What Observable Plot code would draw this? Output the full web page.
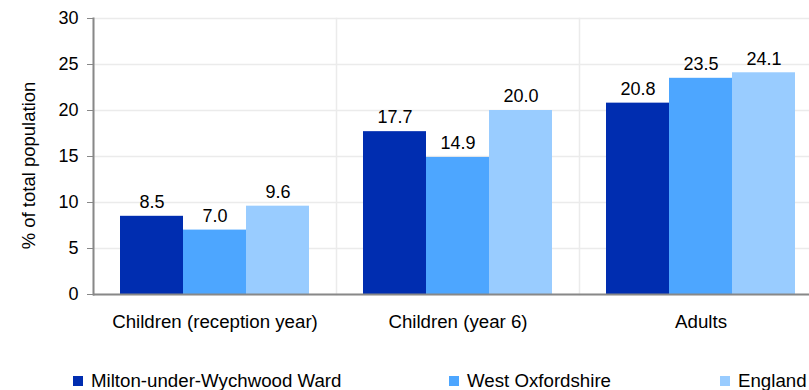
<!DOCTYPE html>
<html><head><meta charset="utf-8">
<script src="https://cdn.jsdelivr.net/npm/d3@7"></script>
<script src="https://cdn.jsdelivr.net/npm/@observablehq/plot@0.6"></script>
<style>
body{margin:0;overflow:hidden;background:#fff;font-family:"Liberation Sans",Arial,sans-serif;}
#wrap{position:relative;width:809px;height:390px;overflow:hidden;}
#legend{position:absolute;top:371px;left:0;width:809px;height:20px;font-size:18.7px;color:#000;}
.item{position:absolute;top:0;height:20px;display:flex;align-items:center;white-space:nowrap;}
.sw{width:10px;height:10px;margin-right:8px;}
</style></head><body><div id="wrap"></div>
<script>
const categories = ["Children (reception year)", "Children (year 6)", "Adults"];
const series = ["Milton-under-Wychwood Ward", "West Oxfordshire", "England"];
const wardValues = [8.5, 17.7, 20.8];
const westOxValues = [7.0, 14.9, 23.5];
const englandValues = [9.6, 20.0, 24.1];
const colors = ["#002db0", "#4da6ff", "#99ccff"];
const yTicks = [0, 5, 10, 15, 20, 25, 30];
const yLabel = "% of total population";

const seriesValues = [wardValues, westOxValues, englandValues];
const rows = [];
categories.forEach((c, i) => series.forEach((s, j) => rows.push({category: c, series: s, value: seriesValues[j][i]})));

const chart = Plot.plot({
  width: 809, height: 390,
  marginTop: 18, marginBottom: 96, marginLeft: 93, marginRight: 0,
  style: {fontFamily: "'Liberation Sans', Arial, sans-serif", fontSize: "18px", color: "#000", background: "#fff"},
  fx: {domain: categories, range: [93, 822], padding: 0, label: null},
  x: {domain: series, paddingInner: 0, paddingOuter: 0.418, axis: null},
  y: {domain: [0, 30], ticks: yTicks},
  color: {domain: series, range: colors},
  marks: [
    Plot.gridY(yTicks, {stroke: "#ebebeb", strokeOpacity: 1, strokeWidth: 1.5}),
    Plot.frame({anchor: "left", stroke: "#ebebeb", strokeOpacity: 1, strokeWidth: 1.5}),
    Plot.barY(rows, {fx: "category", x: "series", y: "value", fill: "series"}),
    Plot.text(rows, {fx: "category", x: "series", y: "value", text: d => d.value.toFixed(1), dy: -14, fontSize: 18, fill: "#000"}),
    Plot.ruleY([0], {stroke: "#888", strokeWidth: 2}),
    Plot.frame({anchor: "left", stroke: "#888", strokeOpacity: 1, strokeWidth: 2, facetAnchor: "left"}),
    Plot.axisY({ticks: yTicks, tickSize: 6, tickPadding: 9, stroke: "#888", strokeOpacity: 1, fill: "#000", label: null}),
    Plot.text([yLabel], {frameAnchor: "left", textAnchor: "middle", rotate: -90, dx: -64, dy: 9, fontSize: 18.5, fill: "#000", facetAnchor: "left"}),
    Plot.axisFx({anchor: "bottom", tickSize: 0, tickPadding: 20, label: null, fill: "#000", fontSize: 18.7})
  ]
});
const wrap = document.getElementById("wrap");
wrap.appendChild(chart);

const legend = document.createElement("div");
legend.id = "legend";
const lefts = [73, 449, 720];
series.forEach((s, i) => {
  const it = document.createElement("div");
  it.className = "item";
  it.style.left = lefts[i] + "px";
  const sw = document.createElement("span");
  sw.className = "sw";
  sw.style.background = colors[i];
  const tx = document.createElement("span");
  tx.textContent = s;
  it.appendChild(sw); it.appendChild(tx);
  legend.appendChild(it);
});
wrap.appendChild(legend);
</script></body></html>
